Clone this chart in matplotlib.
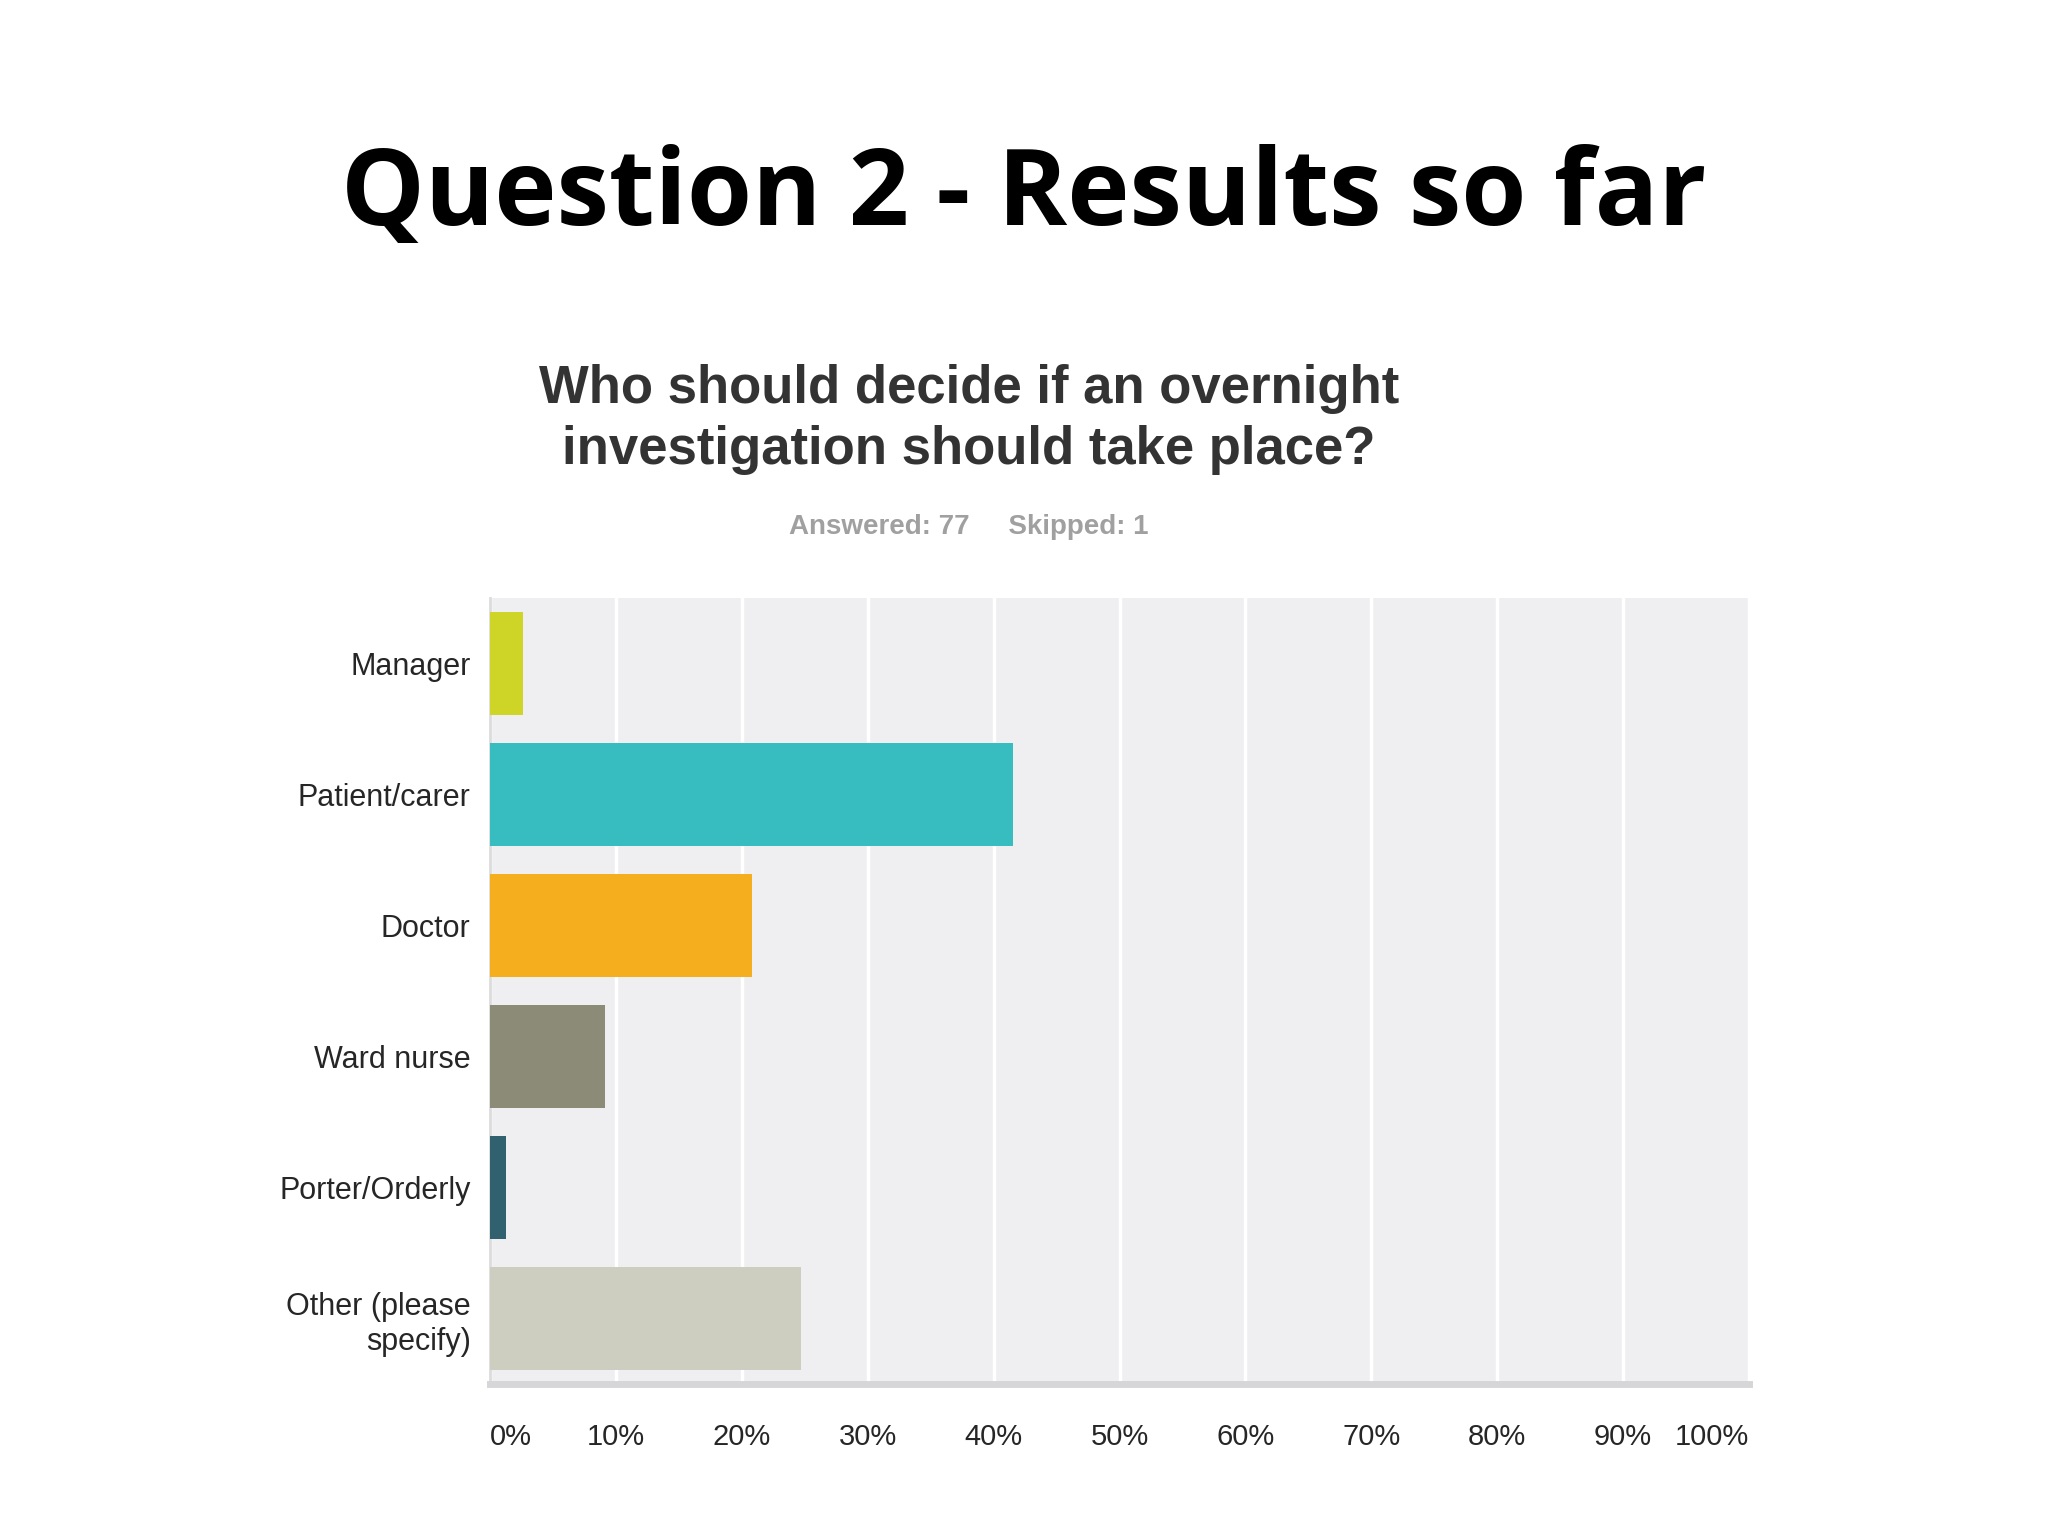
import matplotlib
matplotlib.use("Agg")
import matplotlib.pyplot as plt

categories = ["Manager", "Patient/carer", "Doctor", "Ward nurse", "Porter/Orderly", "Other (please\nspecify)"]
values = [2.60, 41.56, 20.78, 9.09, 1.30, 24.68]
colors = ["#cfd527", "#37bcbf", "#f4ae1e", "#8b8b78", "#31606e", "#cdcebf"]
xticks = [0, 10, 20, 30, 40, 50, 60, 70, 80, 90, 100]
xticklabels = ["0%", "10%", "20%", "30%", "40%", "50%", "60%", "70%", "80%", "90%", "100%"]

fig = plt.figure(figsize=(20.48, 15.36), dpi=100)
fig.patch.set_facecolor("white")

fig.text(0.5, 0.872, "Question 2 - Results so far", ha="center", va="center",
         fontsize=76, fontweight="bold", family="Open Sans", color="black")
fig.text(0.473, 0.727, "Who should decide if an overnight\ninvestigation should take place?",
         ha="center", va="center", fontsize=38, fontweight="bold", family="Liberation Sans",
         color="#333333", linespacing=1.28)
fig.text(0.473, 0.657, "Answered: 77     Skipped: 1", ha="center", va="center",
         fontsize=20, fontweight="bold", family="Liberation Sans", color="#a0a0a0")

ax = fig.add_axes([0.2393, 0.099, 0.6147, 0.5117])
ax.set_facecolor("#efeff1")
ypos = list(range(len(categories)))
ax.barh(ypos, values, height=0.79, color=colors, zorder=3)
ax.set_xlim(0, 100)
ax.set_ylim(5.5, -0.5)
ax.set_xticks(xticks)
ax.set_xticklabels(xticklabels)
for lbl, t in zip(ax.get_xticklabels(), xticks):
    if t == 0:
        lbl.set_ha("left")
    elif t == 100:
        lbl.set_ha("right")
ax.set_yticks(ypos)
ax.set_yticklabels(categories)
ax.grid(axis="x", color="white", linewidth=2.5, zorder=1)
ax.tick_params(axis="both", length=0, labelcolor="#262626")
ax.tick_params(axis="x", pad=28, labelsize=21)
ax.tick_params(axis="y", pad=14, labelsize=22)
for lbl in ax.get_xticklabels() + ax.get_yticklabels():
    lbl.set_family("Liberation Sans")
for s in ["top", "right"]:
    ax.spines[s].set_visible(False)
ax.spines["left"].set_color("#dcdcdc")
ax.spines["left"].set_linewidth(2)
ax.spines["bottom"].set_color("#d6d6d8")
ax.spines["bottom"].set_linewidth(5)

fig.savefig("out.png", dpi=100, facecolor="white")
